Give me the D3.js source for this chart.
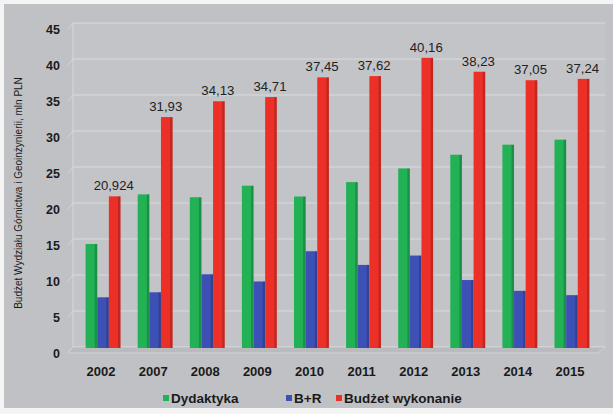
<!DOCTYPE html>
<html><head><meta charset="utf-8">
<script src="https://cdn.jsdelivr.net/npm/d3@7"></script>
<style>
html,body{margin:0;padding:0;background:#f4f4f5;}
svg{display:block;font-family:"Liberation Sans",Arial,sans-serif;}
</style></head>
<body>
<svg id="chart" width="613" height="414"></svg>
<script>
const years = ["2002","2007","2008","2009","2010","2011","2012","2013","2014","2015"];
const dydaktyka = [14.3, 21.2, 20.8, 22.4, 20.9, 22.9, 24.8, 26.7, 28.1, 28.8];
const bir = [6.9, 7.6, 10.1, 9.1, 13.3, 11.4, 12.7, 9.3, 7.8, 7.2];
const budzet = [20.924, 31.93, 34.13, 34.71, 37.45, 37.62, 40.16, 38.23, 37.05, 37.24];
const budzetLabels = ["20,924","31,93","34,13","34,71","37,45","37,62","40,16","38,23","37,05","37,24"];
const seriesNames = ["Dydaktyka","B+R","Budżet wykonanie"];
const seriesColors = ["#22b155","#3d50b5","#ec2f27"];
const yTicks = [0,5,10,15,20,25,30,35,40,45];
const yTitle = "Budżet Wydziału Górnictwa i Geoinżynierii, mln PLN";

const svg = d3.select("#chart");
svg.append("rect").attr("x",4).attr("y",4).attr("width",609).attr("height",404).attr("fill","#c0c1c5");

const y = d3.scaleLinear().domain([0,45]).range([347,23]);
const x = d3.scaleBand().domain(years).range([77,598]).paddingInner(0.33).paddingOuter(0.165);
const xs = d3.scaleBand().domain(seriesNames).range([0,x.bandwidth()]);

// back wall
svg.append("rect").attr("x",73).attr("y",y(45)).attr("width",605-73).attr("height",y(0)-y(45)).attr("fill","#c3c4c8");
// gridlines
svg.append("g").selectAll("line").data(yTicks).join("line")
  .attr("x1",73).attr("x2",605).attr("y1",d=>y(d)).attr("y2",d=>y(d))
  .attr("stroke","#d9dadc").attr("stroke-width",1.2);
// 3D depth ticks on left side wall
svg.append("g").selectAll("line").data(yTicks).join("line")
  .attr("x1",68).attr("x2",73).attr("y1",d=>y(d)+6).attr("y2",d=>y(d))
  .attr("stroke","#d4d5d8").attr("stroke-width",1);
svg.append("line").attr("x1",73).attr("x2",73).attr("y1",y(45)).attr("y2",y(0)).attr("stroke","#d4d5d8").attr("stroke-width",1.2);
// floor front edge
svg.append("path").attr("d",`M68,${y(0)+6}L73,${y(0)}L605,${y(0)}L598,${y(0)+6}Z`).attr("fill","#b9bbbf").attr("stroke","#d4d5d8").attr("stroke-width",0.8);

// y tick labels
svg.append("g").selectAll("text").data(yTicks).join("text")
  .attr("x",60).attr("y",d=>y(d)+7).attr("dy","0.35em").attr("text-anchor","end")
  .attr("font-size",12.5).attr("font-weight","bold").attr("fill","#1a1a1a").text(d=>d);

// y title
svg.append("text").attr("transform","translate(22,193) rotate(-90)")
  .attr("text-anchor","middle").attr("font-size",10).attr("fill","#1a1a1a").text(yTitle);

// bars
const data = [dydaktyka, bir, budzet];
const groups = svg.append("g").selectAll("g").data(years).join("g")
  .attr("transform",d=>`translate(${x(d)},0)`);
const bw = xs.bandwidth();
seriesNames.forEach((name,si)=>{
  groups.append("rect")
    .attr("x",xs(name)).attr("width",bw)
    .attr("y",(d,i)=>y(data[si][i])).attr("height",(d,i)=>y(0)+1-y(data[si][i]))
    .attr("fill",seriesColors[si]);
  groups.append("rect")
    .attr("x",xs(name)+bw-2.5).attr("width",2.5)
    .attr("y",(d,i)=>y(data[si][i])).attr("height",(d,i)=>y(0)+1-y(data[si][i]))
    .attr("fill","#000").attr("opacity",0.18);
});
// data labels for budzet
groups.append("text")
  .attr("x",xs("Budżet wykonanie")+bw/2-1)
  .attr("y",(d,i)=>y(budzet[i])-6)
  .attr("text-anchor","middle").attr("font-size",12.5).attr("fill","#222")
  .attr("textLength",(d,i)=>budzetLabels[i].length>5?40:33).attr("lengthAdjust","spacingAndGlyphs")
  .text((d,i)=>budzetLabels[i]);

// x axis labels
svg.append("g").selectAll("text").data(years).join("text")
  .attr("x",d=>x(d)+x.bandwidth()/2-2).attr("y",371).attr("dy","0.35em")
  .attr("text-anchor","middle").attr("font-size",13).attr("font-weight","bold").attr("fill","#1a1a1a")
  .text(d=>d);

// legend
const legendX = [163,286,336];
const lg = svg.append("g").selectAll("g").data(seriesNames).join("g")
  .attr("transform",(d,i)=>`translate(${legendX[i]},398)`);
lg.append("rect").attr("x",0).attr("y",-3).attr("width",6).attr("height",6).attr("fill",(d,i)=>seriesColors[i]);
lg.append("text").attr("x",8).attr("y",0).attr("dy","0.35em").attr("font-size",13.5).attr("font-weight","bold").attr("fill","#1a1a1a").text(d=>d);
</script>
</body></html>
